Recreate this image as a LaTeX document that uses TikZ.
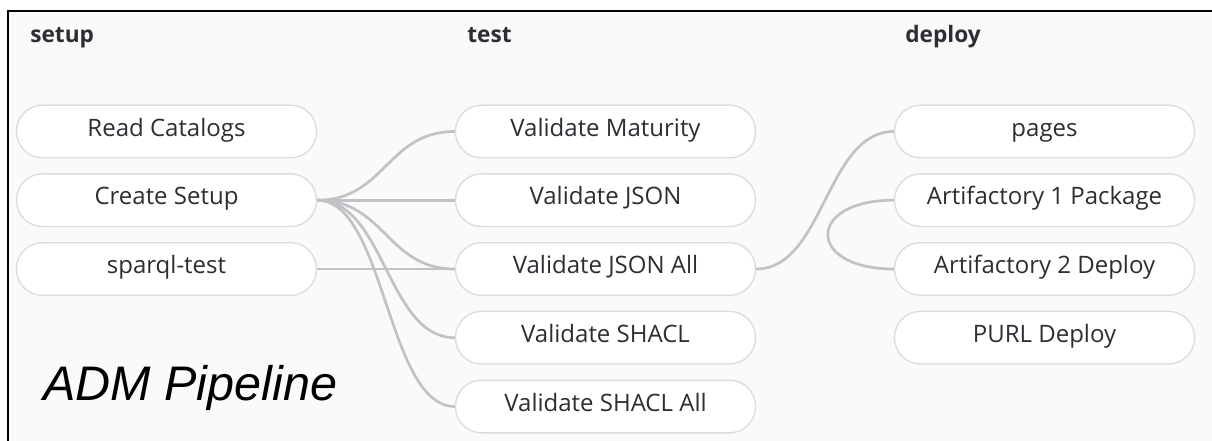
\documentclass[tikz,border=0pt]{standalone}
\usepackage{fontspec}
\setmainfont{Open Sans}
\newfontfamily\arialfont{Liberation Sans}
\definecolor{bgc}{HTML}{FAFAFB}
\definecolor{edgec}{HTML}{C2C2C6}
\definecolor{nodeline}{HTML}{DCDCE0}
\definecolor{txtc}{HTML}{2E2D33}
\begin{document}
\begin{tikzpicture}[x=0.75pt,y=-0.75pt,
  job/.style={draw=nodeline, line width=1pt, fill=white, rounded corners=19.5pt,
    minimum width=225pt, minimum height=39.5pt, inner sep=0pt,
    text height=0.72em, text depth=0pt,
    font=\fontsize{18pt}{21pt}\selectfont, text=txtc},
  stagehead/.style={anchor=base west, inner sep=0pt, font=\fontsize{17pt}{20pt}\selectfont\bfseries, text=txtc},
  link/.style={draw=edgec, line width=2pt}]
\useasboundingbox (0,0) rectangle (1212,441);
\fill[white] (0,0) rectangle (1212,441);
\fill[bgc] (8,11) rectangle (1212,441);
\draw[black, line width=1.9pt] (8,441) -- (8,11) -- (1212,11);

\node[stagehead] (hsetup) at (30,43) {setup};
\node[stagehead] (htest) at (467,43) {test};
\node[stagehead] (hdeploy) at (905,43) {deploy};

\node[job] (rc) at (166.5,131.5) {Read Catalogs};
\node[job] (cs) at (166.5,200.2) {Create Setup};
\node[job] (sq) at (166.5,269) {sparql-test};

\node[job] (vm) at (605.5,131.5) {Validate Maturity};
\node[job] (vj) at (605.5,200.2) {Validate JSON};
\node[job] (vja) at (605.5,269) {Validate JSON All};
\node[job] (vs) at (605.5,337.7) {Validate SHACL};
\node[job] (vsa) at (605.5,406.5) {Validate SHACL All};

\node[job] (pg) at (1044.5,131.5) {pages};
\node[job] (a1) at (1044.5,200.2) {Artifactory 1 Package};
\node[job] (a2) at (1044.5,269) {Artifactory 2 Deploy};
\node[job] (pd) at (1044.5,337.7) {PURL Deploy};

\node[anchor=base west, inner sep=0pt, font=\arialfont\itshape\fontsize{36.4pt}{42pt}\selectfont] (title) at (43,400) {ADM Pipeline};

\begin{scope}[on background layer/.try]
\draw[link] (cs.east) .. controls +(68,0) and +(-68,0) .. (vm.west);
\draw[link] (cs.east) -- (vj.west);
\draw[link] (cs.east) .. controls +(68,0) and +(-68,0) .. (vja.west);
\draw[link] (cs.east) .. controls +(68,0) and +(-68,0) .. (vs.west);
\draw[link] (cs.east) .. controls +(68,0) and +(-68,0) .. (vsa.west);
\draw[link] (sq.east) -- (vja.west);
\draw[link] (vja.east) .. controls +(68,0) and +(-68,0) .. (pg.west);
\draw[link] (a1.west) .. controls +(-88,0) and +(-88,0) .. (a2.west);
\end{scope}
\end{tikzpicture}
\end{document}
